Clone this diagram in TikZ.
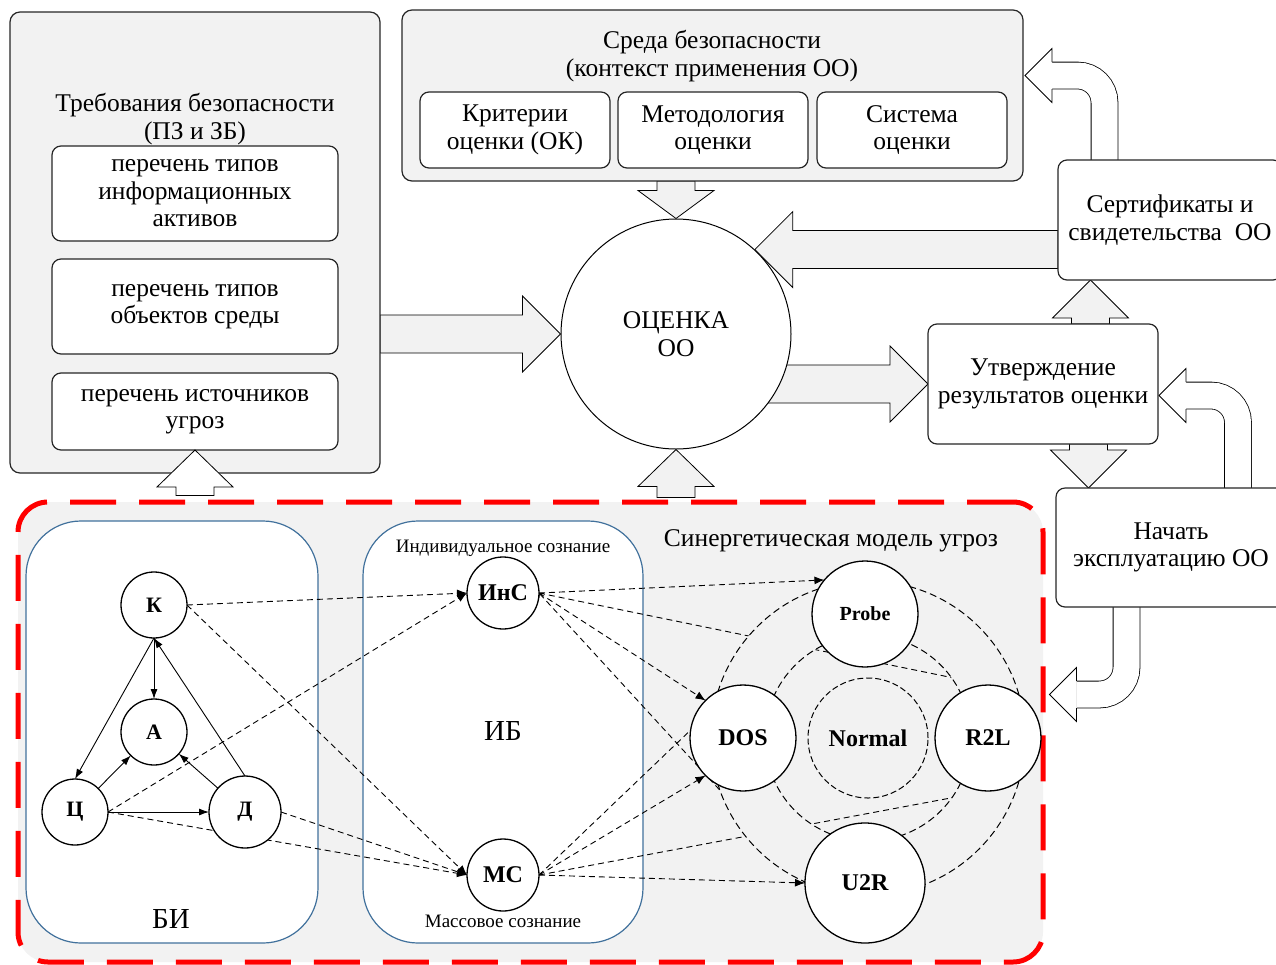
\documentclass[tikz,border=0pt]{standalone}
\usepackage{fontspec}
\setmainfont{Liberation Serif}
\usetikzlibrary{shapes,arrows.meta,positioning,calc,backgrounds}
\definecolor{panelgray}{RGB}{242,242,242}
\definecolor{frameblue}{RGB}{65,113,156}
\definecolor{zonered}{RGB}{255,0,0}
\pgfdeclarelayer{links}
\pgfdeclarelayer{rings}
\pgfsetlayers{background,links,rings,main}
\newcommand{\txtmain}{\fontsize{25.5pt}{27.5pt}\selectfont}
\newcommand{\txtsmall}{\fontsize{19pt}{22pt}\selectfont}
\newcommand{\txtbig}{\fontsize{29pt}{32pt}\selectfont}
\newcommand{\txtbold}{\fontsize{24pt}{26pt}\selectfont\bfseries}
\newcommand{\txtletter}{\fontsize{22pt}{24pt}\selectfont\bfseries}
\newcommand{\txtprobe}{\fontsize{20pt}{24pt}\selectfont\bfseries}
% block arrow: [head length]{style}{from}{to}
\newcommand{\bigarrow}[4][38pt]{%
    \path #3 coordinate (ba-s) #4 coordinate (ba-e);
    \coordinate (ba-h) at ($(ba-e)!#1!(ba-s)$);
    \draw [#2] ($(ba-s)!19pt!90:(ba-e)$) -- ($(ba-h)!19pt!-90:(ba-s)$)
        -- ($(ba-h)!38pt!-90:(ba-s)$) -- (ba-e)
        -- ($(ba-h)!38pt!90:(ba-s)$) -- ($(ba-h)!19pt!90:(ba-s)$)
        -- ($(ba-s)!19pt!-90:(ba-e)$) -- cycle;
}
% bent arrow with head to the left: {from}{tip}
\newcommand{\turnarrow}[2]{%
    \coordinate (ta-t) at #2;
    \coordinate (ta-h) at ($(ta-t)+(27,0)$);
    \draw [turnshaft] #1 |- (ta-h);
    \draw [fill=white, line width=0.8pt] ($(ta-h)+(0,-13.5)$) -- ($(ta-h)+(0,-27)$) -- (ta-t)
        -- ($(ta-h)+(0,27)$) -- ($(ta-h)+(0,13.5)$);
}
\tikzset{
    outerbox/.style={draw=black!85, fill=panelgray, rounded corners=10pt, line width=1.2pt, inner sep=0pt, outer sep=0pt},
    block/.style={draw=black!85, fill=white, rounded corners=9pt, line width=1.2pt, align=center, inner sep=0pt, outer sep=0pt},
    bigcircle/.style={circle, draw, fill=white, minimum size=230pt, line width=1pt, align=center, inner sep=0pt},
    bubble/.style={circle, draw, fill=white, minimum size=66pt, line width=1.3pt, inner sep=0pt, outer sep=0pt, font=\txtletter},
    threat/.style={circle, draw, fill=white, minimum size=106pt, line width=1.3pt, inner sep=0pt, outer sep=0pt, font=\txtbold},
    calm/.style={circle, draw, dash pattern=on 6pt off 3pt, minimum size=120pt, line width=1pt, inner sep=0pt, font=\txtbold},
    group/.style={draw=frameblue, fill=white, rounded corners=55pt, line width=1.2pt, inner sep=0pt},
    zone/.style={draw=zonered, fill=panelgray, dash pattern=on 46pt off 23pt, line width=5pt, rounded corners=30pt, inner sep=0pt},
    ring/.style={draw, dash pattern=on 7pt off 4pt, line width=1pt},
    line/.style={draw, -{Latex[length=10pt, width=7pt]}, line width=0.9pt},
    dline/.style={draw, dash pattern=on 6pt off 4pt, -{Latex[length=10pt, width=8pt]}, line width=0.9pt},
    blockarrow/.style={draw, fill=panelgray, line width=0.8pt},
    whitearrow/.style={draw, fill=white, line width=0.8pt},
    turnshaft/.style={draw, line width=0.8pt, double=white, double distance=26pt, rounded corners=27pt}
}

\begin{document}
\begin{tikzpicture}[x=1pt, y=-1pt, font=\txtmain]
    \useasboundingbox (0,0) rectangle (1276,964);

    % threat area
    \begin{pgfonlayer}{background}
        \node [zone, minimum width=1025pt, minimum height=460pt] (region) at (530.5,732) {};
        \node [group, minimum width=292pt, minimum height=422pt] (bibox) at (172,732) {};
        \node [group, minimum width=280pt, minimum height=422pt] (ibbox) at (503,732) {};
    \end{pgfonlayer}

    % requirements
    \node [outerbox, minimum width=370pt, minimum height=461pt] (reqs) at (195,242.5) {};
    \node [align=center] (reqtitle) at (195,119) {Требования безопасности\\(ПЗ и ЗБ)};
    \node [block, minimum width=286pt, minimum height=95pt] (assets) at (195,193.5) {перечень типов\\информационных\\активов};
    \node [block, minimum width=286pt, minimum height=95pt, below=18pt of assets] (objects) {перечень типов\\объектов среды};
    \node [block, minimum width=286pt, minimum height=77pt, below=19pt of objects] (sources) {перечень источников\\угроз};

    % environment
    \node [outerbox, minimum width=621pt, minimum height=171pt] (env) at (712.5,95.5) {};
    \node [align=center] (envtitle) at (712,56) {Среда безопасности\\(контекст применения ОО)};
    \node [block, minimum width=190pt, minimum height=76pt] (crit) at (515,130) {Критерии\\оценки (ОК)};
    \node [block, minimum width=190pt, minimum height=76pt, right=8pt of crit] (meth) {Методология\\оценки};
    \node [block, minimum width=190pt, minimum height=76pt, right=9pt of meth] (sys) {Система\\оценки};

    \node [bigcircle] (oc) at (676,334) {ОЦЕНКА\\ОО};

    \node [block, minimum width=224pt, minimum height=120pt] (cert) at (1170,220) {Сертификаты и\\свидетельства\ \ ОО};
    \node [block, minimum width=230pt, minimum height=120pt] (appr) at (1043,384) {Утверждение\\результатов оценки};
    \node [block, minimum width=230pt, minimum height=119pt] (launch) at (1171,547.5) {Начать\\эксплуатацию ОО};

    % labels in the threat area
    \node [font=\txtsmall] (indtext) at (503,548) {Индивидуальное сознание};
    \node [font=\txtsmall] (masstext) at (503,921) {Массовое сознание};
    \node [font=\txtbig] (iblabel) at (503,731) {ИБ};
    \node [font=\txtbig] (bilabel) at (171,919) {БИ};
    \node (modeltitle) at (831,541) {Синергетическая модель угроз};

    \node [bubble] (k) at (154,605) {К};
    \node [bubble] (a) at (154,732) {А};
    \node [bubble] (c) at (75,812) {Ц};
    \node [bubble, minimum size=72pt] (d) at (245,812) {Д};
    \node [bubble, minimum size=72pt, font=\txtbold] (ins) at (503,593) {ИнС};
    \node [bubble, minimum size=72pt, font=\txtbold] (ms) at (503,875) {МС};

    \node [threat, font=\txtprobe] (probe) at (865,614) {Probe};
    \node [threat] (dos) at (743,738) {DOS};
    \node [calm] (norm) at (868,738) {Normal};
    \node [threat] (r2l) at (988,738) {R2L};
    \node [threat, minimum size=120pt] (u2r) at (865,883) {U2R};

    \path [line] (k) -- (a);
    \path [line] (k.south) -- (c.north);
    \path [line] (d.north) -- (k.south);
    \path [line] (c) -- (a);
    \path [line] (d) -- (a);
    \path [line] (c) -- (d);

    \begin{pgfonlayer}{links}
        \path [dline] (k.east) -- (ins.west);
        \path [dline] (k.east) -- (ms.west);
        \path [dline] (c.east) -- (ins.west);
        \path [dline] (c.east) -- (ms.west);
        \path [dline] (d.east) -- (ms.west);
        \path [dline] (ins.east) -- (probe.140);
        \path [dline] (ins.east) -- (dos.135);
        \path [dline] (ins.east) -- (r2l.north);
        \path [dline, {Straight Barb[length=3pt, width=7pt]}-] (ins.east) -- (u2r.west);
        \path [dline] (ms.east) -- (probe.west);
        \path [dline] (ms.east) -- (dos.225);
        \path [dline] (ms.east) -- (r2l.south);
        \path [dline] (ms.east) -- (u2r.west);

        % block arrows
        \coordinate (upx) at ($(appr.north)+(47.5,0)$);
        \coordinate (downx) at ($(appr.south)+(45.5,0)$);
        \bigarrow{blockarrow}{(reqs.east |- oc.west)}{(oc.west)}
        \bigarrow[28pt]{blockarrow}{(oc.north |- env.south)}{(oc.north)}
        \bigarrow{blockarrow}{(cert.west |- oc.47)}{(oc.47)}
        \bigarrow{blockarrow}{(oc.center |- appr.west)}{(appr.west)}
        \bigarrow{blockarrow}{(upx)}{(upx |- cert.south)}
        \bigarrow{blockarrow}{(downx)}{(downx |- launch.north)}
        \bigarrow[37pt]{blockarrow}{($(oc.south |- region.north)+(0,-2)$)}{(oc.south)}

        \turnarrow{($(cert.north west)+(46.5,0)$)}{($(env.east)+(2,-20)$)}
        \turnarrow{($(launch.north west)+(182,0)$)}{($(appr.east)+(1,11.5)$)}
        \turnarrow{($(launch.south west)+(70.5,0)$)}{($(region.east)+(4,-37.5)$)}
    \end{pgfonlayer}

    \begin{pgfonlayer}{rings}
        \fill [panelgray, even odd rule] (norm) circle (157pt) (norm) circle (103pt);
        \path [ring] (norm) circle (157pt);
        \path [ring] (norm) circle (103pt);
    \end{pgfonlayer}

    \bigarrow[37pt]{whitearrow}{($(sources.south |- region.north)+(0,-4)$)}{(sources.south)}
\end{tikzpicture}
\end{document}
